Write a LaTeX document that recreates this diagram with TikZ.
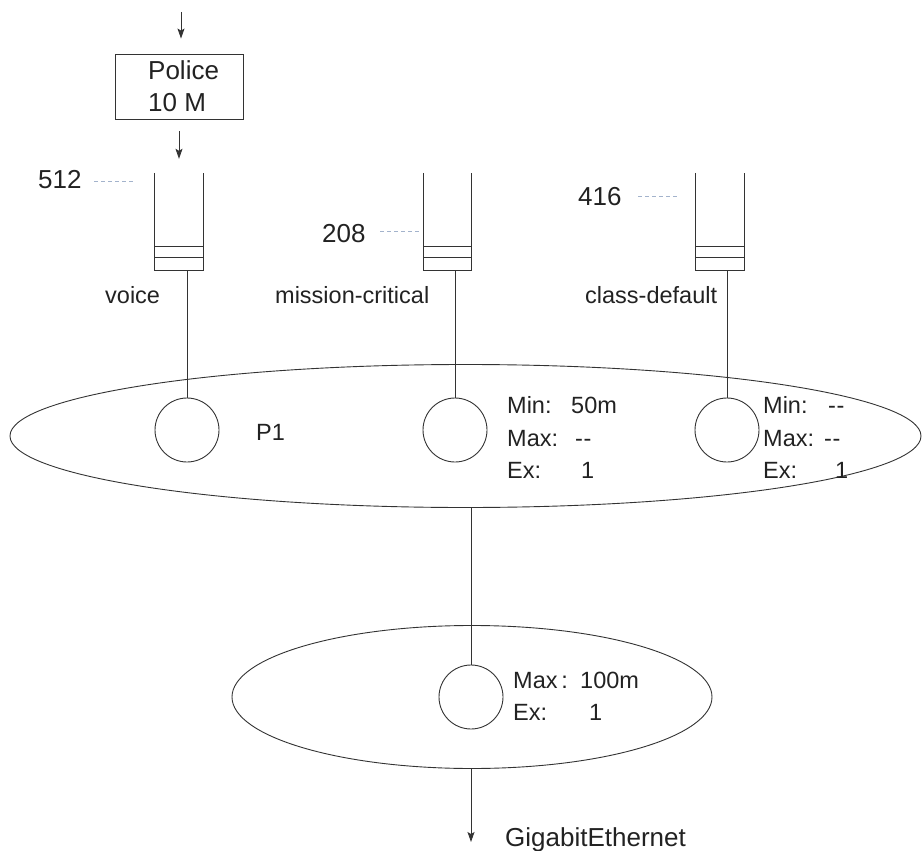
\documentclass[tikz,border=0pt]{standalone}
\usepackage{fontspec}
\setmainfont{Liberation Sans}
\usetikzlibrary{shapes.geometric,arrows.meta,calc}
\definecolor{ln}{HTML}{333333}
\definecolor{dshc}{HTML}{A3B3CC}
\definecolor{tx}{HTML}{222222}
\newcommand\twodash{-\kern0.5pt-}
\begin{document}
\begin{tikzpicture}[x=1pt,y=-1pt,
  lnk/.style={draw=ln, line width=0.9pt},
  arr/.style={lnk, -{Stealth[length=10pt,width=7pt,inset=2pt]}},
  qbox/.style={minimum width=48pt, minimum height=97pt, inner sep=0},
  pc/.style={circle, draw=ln, line width=0.9pt, minimum size=64pt, inner sep=0},
  ell/.style={ellipse, draw=ln, line width=0.9pt, inner sep=0},
  lab/.style={inner sep=0, anchor=base west, text=tx, font=\fontsize{23.5}{28}\selectfont},
  biglab/.style={inner sep=0, anchor=base west, text=tx, font=\fontsize{26}{30}\selectfont},
  dsh/.style={draw=dshc, line width=1pt, dash pattern=on 4pt off 3pt}]
\useasboundingbox (0,0) rectangle (922,851);

% police box
\node[draw=ln, line width=0.9pt, minimum width=128pt, minimum height=65pt, inner sep=0] (police) at (179,86.5) {};
\node[biglab] (pol1) at (148,80) {Police};
\node[biglab] (pol2) at (148,112) {10 M};
\coordinate (in) at (181,12);

% queues
\node[qbox] (vq) at (179,221.5) {};
\node[qbox] (mq) at (447.5,221.5) {};
\node[qbox] (cq) at (720,221.5) {};
\foreach \q in {vq,mq,cq}{
  \draw[lnk] (\q.north west) -- (\q.south west) -- (\q.south east) -- (\q.north east);
  \draw[lnk] ($(\q.south west)+(0,-13)$) -- ($(\q.south east)+(0,-13)$);
  \draw[lnk] ($(\q.south west)+(0,-24)$) -- ($(\q.south east)+(0,-24)$);
}

\draw[arr, shorten >=15pt] (in) -- (in |- police.north);
\draw[arr, shorten <=12pt, shorten >=14pt] (police.south) -- (police.south |- vq.north);

% queue limits
\node[biglab] (n512) at (38,188) {512};
\node[biglab] (n208) at (322,242) {208};
\node[biglab] (n416) at (578,205) {416};
\coordinate (d512a) at (94,181);  \coordinate (d512b) at (133,181);
\coordinate (d208a) at (380,231); \coordinate (d208b) at (421,231);
\coordinate (d416a) at (638,196); \coordinate (d416b) at (677,196);
\draw[dsh] (d512a) -- (d512b);
\draw[dsh] (d208a) -- (d208b);
\draw[dsh] (d416a) -- (d416b);

% queue names
\node[lab] (lv) at (105,303) {voice};
\node[lab] (lm) at (275,303) {mission-critical};
\node[lab] (lc) at (585,303) {class-default};

% big ellipse
\node[ell, minimum width=911pt, minimum height=143pt] (bige) at (465.5,436) {};
\node[pc] (vc) at (187,430) {};
\node[pc] (mc) at (455,430) {};
\node[pc] (cc) at (727,430) {};
\draw[lnk] (vc |- vq.south) -- (vc.north);
\draw[lnk] (mc |- mq.south) -- (mc.north);
\draw[lnk] (cc |- cq.south) -- (cc.north);
\node[lab] (p1) at (256,440) {P1};

\node[lab] (mmin) at (507,413) {Min:};
\node[lab] (mminv) at (571,413) {50m};
\node[lab] (mmax) at (507,446) {Max:};
\node[lab] (mmaxv) at (575,446) {\twodash};
\node[lab] (mex) at (507,478) {Ex:};
\node[lab] (mexv) at (581,478) {1};

\node[lab] (cmin) at (763,413) {Min:};
\node[lab] (cminv) at (828,413) {\twodash};
\node[lab] (cmax) at (763,446) {Max:};
\node[lab] (cmaxv) at (824,446) {\twodash};
\node[lab] (cex) at (763,478) {Ex:};
\node[lab] (cexv) at (835,478) {1};

% small ellipse
\node[ell, minimum width=480pt, minimum height=143pt] (sme) at (472,697) {};
\node[pc] (sc) at (471,697) {};
\draw[lnk] (sc |- bige.south) -- (sc.north);
\node[lab] (smax) at (513,688) {Max\,:};
\node[lab] (smaxv) at (580,688) {100m};
\node[lab] (sex) at (513,720) {Ex:};
\node[lab] (sexv) at (589,720) {1};

\coordinate (out) at (471,842);
\draw[arr] (sc |- sme.south) -- (out);
\node[biglab] (ge) at (505,846) {GigabitEthernet};
\end{tikzpicture}
\end{document}
